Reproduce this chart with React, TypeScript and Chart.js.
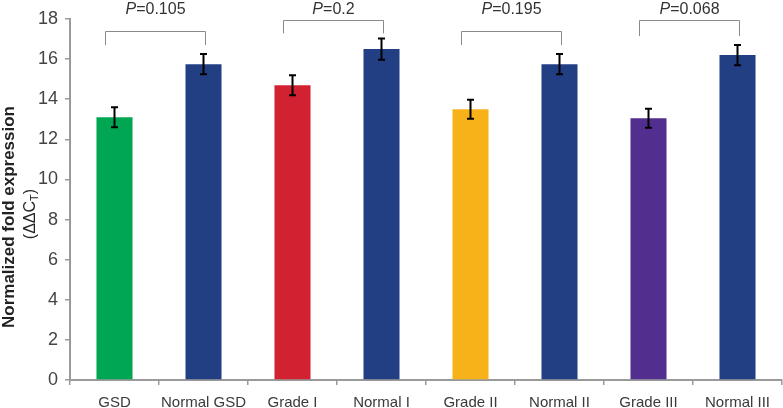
import React, { useEffect, useRef } from "react";
import { Chart, registerables } from "chart.js";

Chart.register(...registerables);

const categories = ["GSD", "Normal GSD", "Grade I", "Normal I", "Grade II", "Normal II", "Grade III", "Normal III"];
const values = [13.1, 15.75, 14.7, 16.5, 13.5, 15.75, 13.05, 16.2];
const errors = [0.5, 0.5, 0.5, 0.53, 0.47, 0.5, 0.47, 0.5];
const barColors = ["#00a651", "#233f84", "#d22131", "#233f84", "#f8b219", "#233f84", "#522e8f", "#233f84"];
const yTicks = [0, 2, 4, 6, 8, 10, 12, 14, 16, 18];
const bracketPairs = [[0, 1], [2, 3], [4, 5], [6, 7]];
const bracketTops = [17.42, 17.95, 17.42, 17.95];
const bracketLegs = [16.7, 17.28, 16.7, 17.15];
const pValues = ["0.105", "0.2", "0.195", "0.068"];

const FONT = "Arial, 'Liberation Sans', sans-serif";

const overlayPlugin = {
  id: "overlay",
  afterDatasetsDraw(chart: any) {
    const ctx = chart.ctx;
    const x = chart.scales.x;
    const y = chart.scales.y;
    // error bars
    ctx.save();
    ctx.strokeStyle = "#000";
    ctx.lineWidth = 2;
    values.forEach((v, i) => {
      const cx = x.getPixelForValue(i);
      const t = y.getPixelForValue(v + errors[i]);
      const b = y.getPixelForValue(v - errors[i]);
      ctx.beginPath();
      ctx.moveTo(cx, t);
      ctx.lineTo(cx, b);
      ctx.moveTo(cx - 3.5, t);
      ctx.lineTo(cx + 3.5, t);
      ctx.moveTo(cx - 3.5, b);
      ctx.lineTo(cx + 3.5, b);
      ctx.stroke();
    });
    ctx.restore();
    // brackets
    ctx.save();
    ctx.strokeStyle = "#8a8a8a";
    ctx.lineWidth = 1;
    bracketPairs.forEach((p, k) => {
      const l = Math.round(x.getPixelForValue(p[0]) - 10) + 0.5;
      const r = Math.round(x.getPixelForValue(p[1]) + 1) + 0.5;
      const t = Math.round(y.getPixelForValue(bracketTops[k])) + 0.5;
      const b = y.getPixelForValue(bracketLegs[k]);
      ctx.beginPath();
      ctx.moveTo(l, b);
      ctx.lineTo(l, t);
      ctx.lineTo(r, t);
      ctx.lineTo(r, b);
      ctx.stroke();
      // P text
      const mid = (l + r) / 2;
      ctx.fillStyle = "#333";
      ctx.textBaseline = "alphabetic";
      ctx.font = `italic 16px ${FONT}`;
      const pw = ctx.measureText("P").width;
      ctx.font = `16px ${FONT}`;
      const rest = "=" + pValues[k];
      const rw = ctx.measureText(rest).width;
      const start = mid - (pw + rw) / 2;
      ctx.font = `italic 16px ${FONT}`;
      ctx.textAlign = "left";
      ctx.fillText("P", start, 14);
      ctx.font = `16px ${FONT}`;
      ctx.fillText(rest, start + pw, 14);
    });
    ctx.restore();
    // y axis title
    ctx.save();
    ctx.fillStyle = "#222";
    ctx.translate(9, 217);
    ctx.rotate(-Math.PI / 2);
    ctx.font = `bold 17px ${FONT}`;
    ctx.textAlign = "center";
    ctx.textBaseline = "middle";
    ctx.fillText("Normalized fold expression", 0, 0);
    ctx.restore();
    ctx.save();
    ctx.fillStyle = "#222";
    ctx.translate(31, 214);
    ctx.rotate(-Math.PI / 2);
    ctx.textBaseline = "middle";
    ctx.textAlign = "left";
    ctx.font = `16px ${FONT}`;
    const a = "(ΔΔC";
    const c = ")";
    const aw = ctx.measureText(a).width;
    const cw = ctx.measureText(c).width;
    ctx.font = `11px ${FONT}`;
    const sw = ctx.measureText("T").width;
    const total = aw + sw + cw;
    let px = -total / 2;
    ctx.font = `16px ${FONT}`;
    ctx.fillText(a, px, 0);
    px += aw;
    ctx.font = `11px ${FONT}`;
    ctx.fillText("T", px, 4);
    px += sw;
    ctx.font = `16px ${FONT}`;
    ctx.fillText(c, px, 0);
    ctx.restore();
  },
};

export default function App() {
  const ref = useRef<HTMLCanvasElement | null>(null);
  useEffect(() => {
    document.body.style.margin = "0";
    const chart = new Chart(ref.current as HTMLCanvasElement, {
      type: "bar",
      data: {
        labels: categories,
        datasets: [
          {
            data: values,
            backgroundColor: barColors,
            categoryPercentage: 1,
            barPercentage: 0.405,
          },
        ],
      },
      options: {
        responsive: false,
        animation: false,
        layout: { padding: { left: 0, right: 1, top: 19, bottom: 0 } },
        plugins: { legend: { display: false }, tooltip: { enabled: false } },
        scales: {
          x: {
            offset: true,
            grid: { drawOnChartArea: false, drawTicks: true, tickLength: 5, color: "#9a9a9a", offset: true, lineWidth: 1.5 },
            border: { color: "#9a9a9a", width: 2 },
            ticks: { color: "#3a3a3a", font: { size: 15, family: FONT }, padding: 9, maxRotation: 0, autoSkip: false },
            afterFit: (s: any) => {
              s.height = 28;
            },
          },
          y: {
            min: 0,
            max: 18,
            afterBuildTicks: (s: any) => {
              s.ticks = yTicks.map((v) => ({ value: v }));
            },
            grid: { drawOnChartArea: false, drawTicks: true, tickLength: 5, color: "#9a9a9a", lineWidth: 1.5 },
            border: { color: "#9a9a9a", width: 2 },
            ticks: { color: "#444", font: { size: 18, family: FONT }, padding: 7 },
            afterFit: (s: any) => {
              s.width = 70;
            },
          },
        },
      },
      plugins: [overlayPlugin],
    });
    return () => chart.destroy();
  }, []);
  return <canvas ref={ref} width={783} height={408} style={{ display: "block" }} />;
}
